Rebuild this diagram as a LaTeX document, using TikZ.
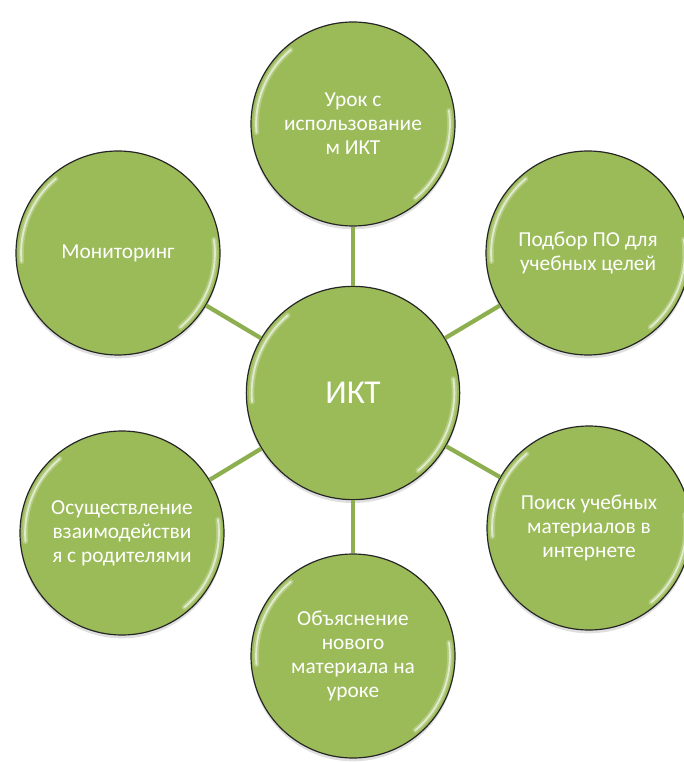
\documentclass[tikz,border=0pt]{standalone}
\usepackage{fontspec}
\setmainfont{Carlito}
\usetikzlibrary{
  calc,
  shadows
}
\definecolor{ballgreen}{HTML}{9BBB59}
\definecolor{linkgreen}{HTML}{8DAF4F}
\tikzset{
  gloss/.style = {path picture = {
    \foreach \w/\o in {4pt/0.25, 1.4pt/0.6}
      \draw[white, opacity=\o, line width=\w, line cap=round]
        let \p1 = (path picture bounding box.center),
            \p2 = (path picture bounding box.east),
            \n1 = {0.95*(\x2-\x1)}
        in ($(\p1)+(185:\n1)$) arc[start angle=185, end angle=130, radius=\n1]
           ($(\p1)+(-50:\n1)$) arc[start angle=-50, end angle=8, radius=\n1];
  }}
}

\begin{document}
\begin{tikzpicture}[x = 0.75pt, y = -0.75pt,
    ball/.style = {circle, draw=black!85, line width=0.9pt, fill=ballgreen,
      text=white, align=center, inner sep=0pt, minimum size=153pt,
      font=\fontsize{16}{18}\selectfont, gloss,
      drop shadow={shadow xshift=0pt, shadow yshift=-2.5pt, opacity=0.25}},
    hub/.style = {ball, minimum size=160pt, font=\fontsize{25}{29}\selectfont},
    link/.style = {draw=linkgreen, line width=3.2pt}]
    \useasboundingbox (0,0) rectangle (683,762);

    \node[hub] (ikt) at (353,393) {ИКТ};
    \node[ball] (urok) at (353,124) {Урок с\\использование\\м ИКТ};
    \node[ball] (podbor) at (588,253) {Подбор ПО для\\учебных целей};
    \node[ball] (poisk) at (589,528) {Поиск учебных\\материалов в\\интернете};
    \node[ball] (obyasn) at (353,656) {Объяснение\\нового\\материала на\\уроке};
    \node[ball] (osush) at (122,533) {Осуществление\\взаимодействи\\я с родителями};
    \node[ball] (monitor) at (118,253) {Мониторинг};

    \draw[link] (ikt) -- (urok);
    \draw[link] (ikt) -- (podbor);
    \draw[link] (ikt) -- (poisk);
    \draw[link] (ikt) -- (obyasn);
    \draw[link] (ikt) -- (osush);
    \draw[link] (ikt) -- (monitor);
\end{tikzpicture}
\end{document}
